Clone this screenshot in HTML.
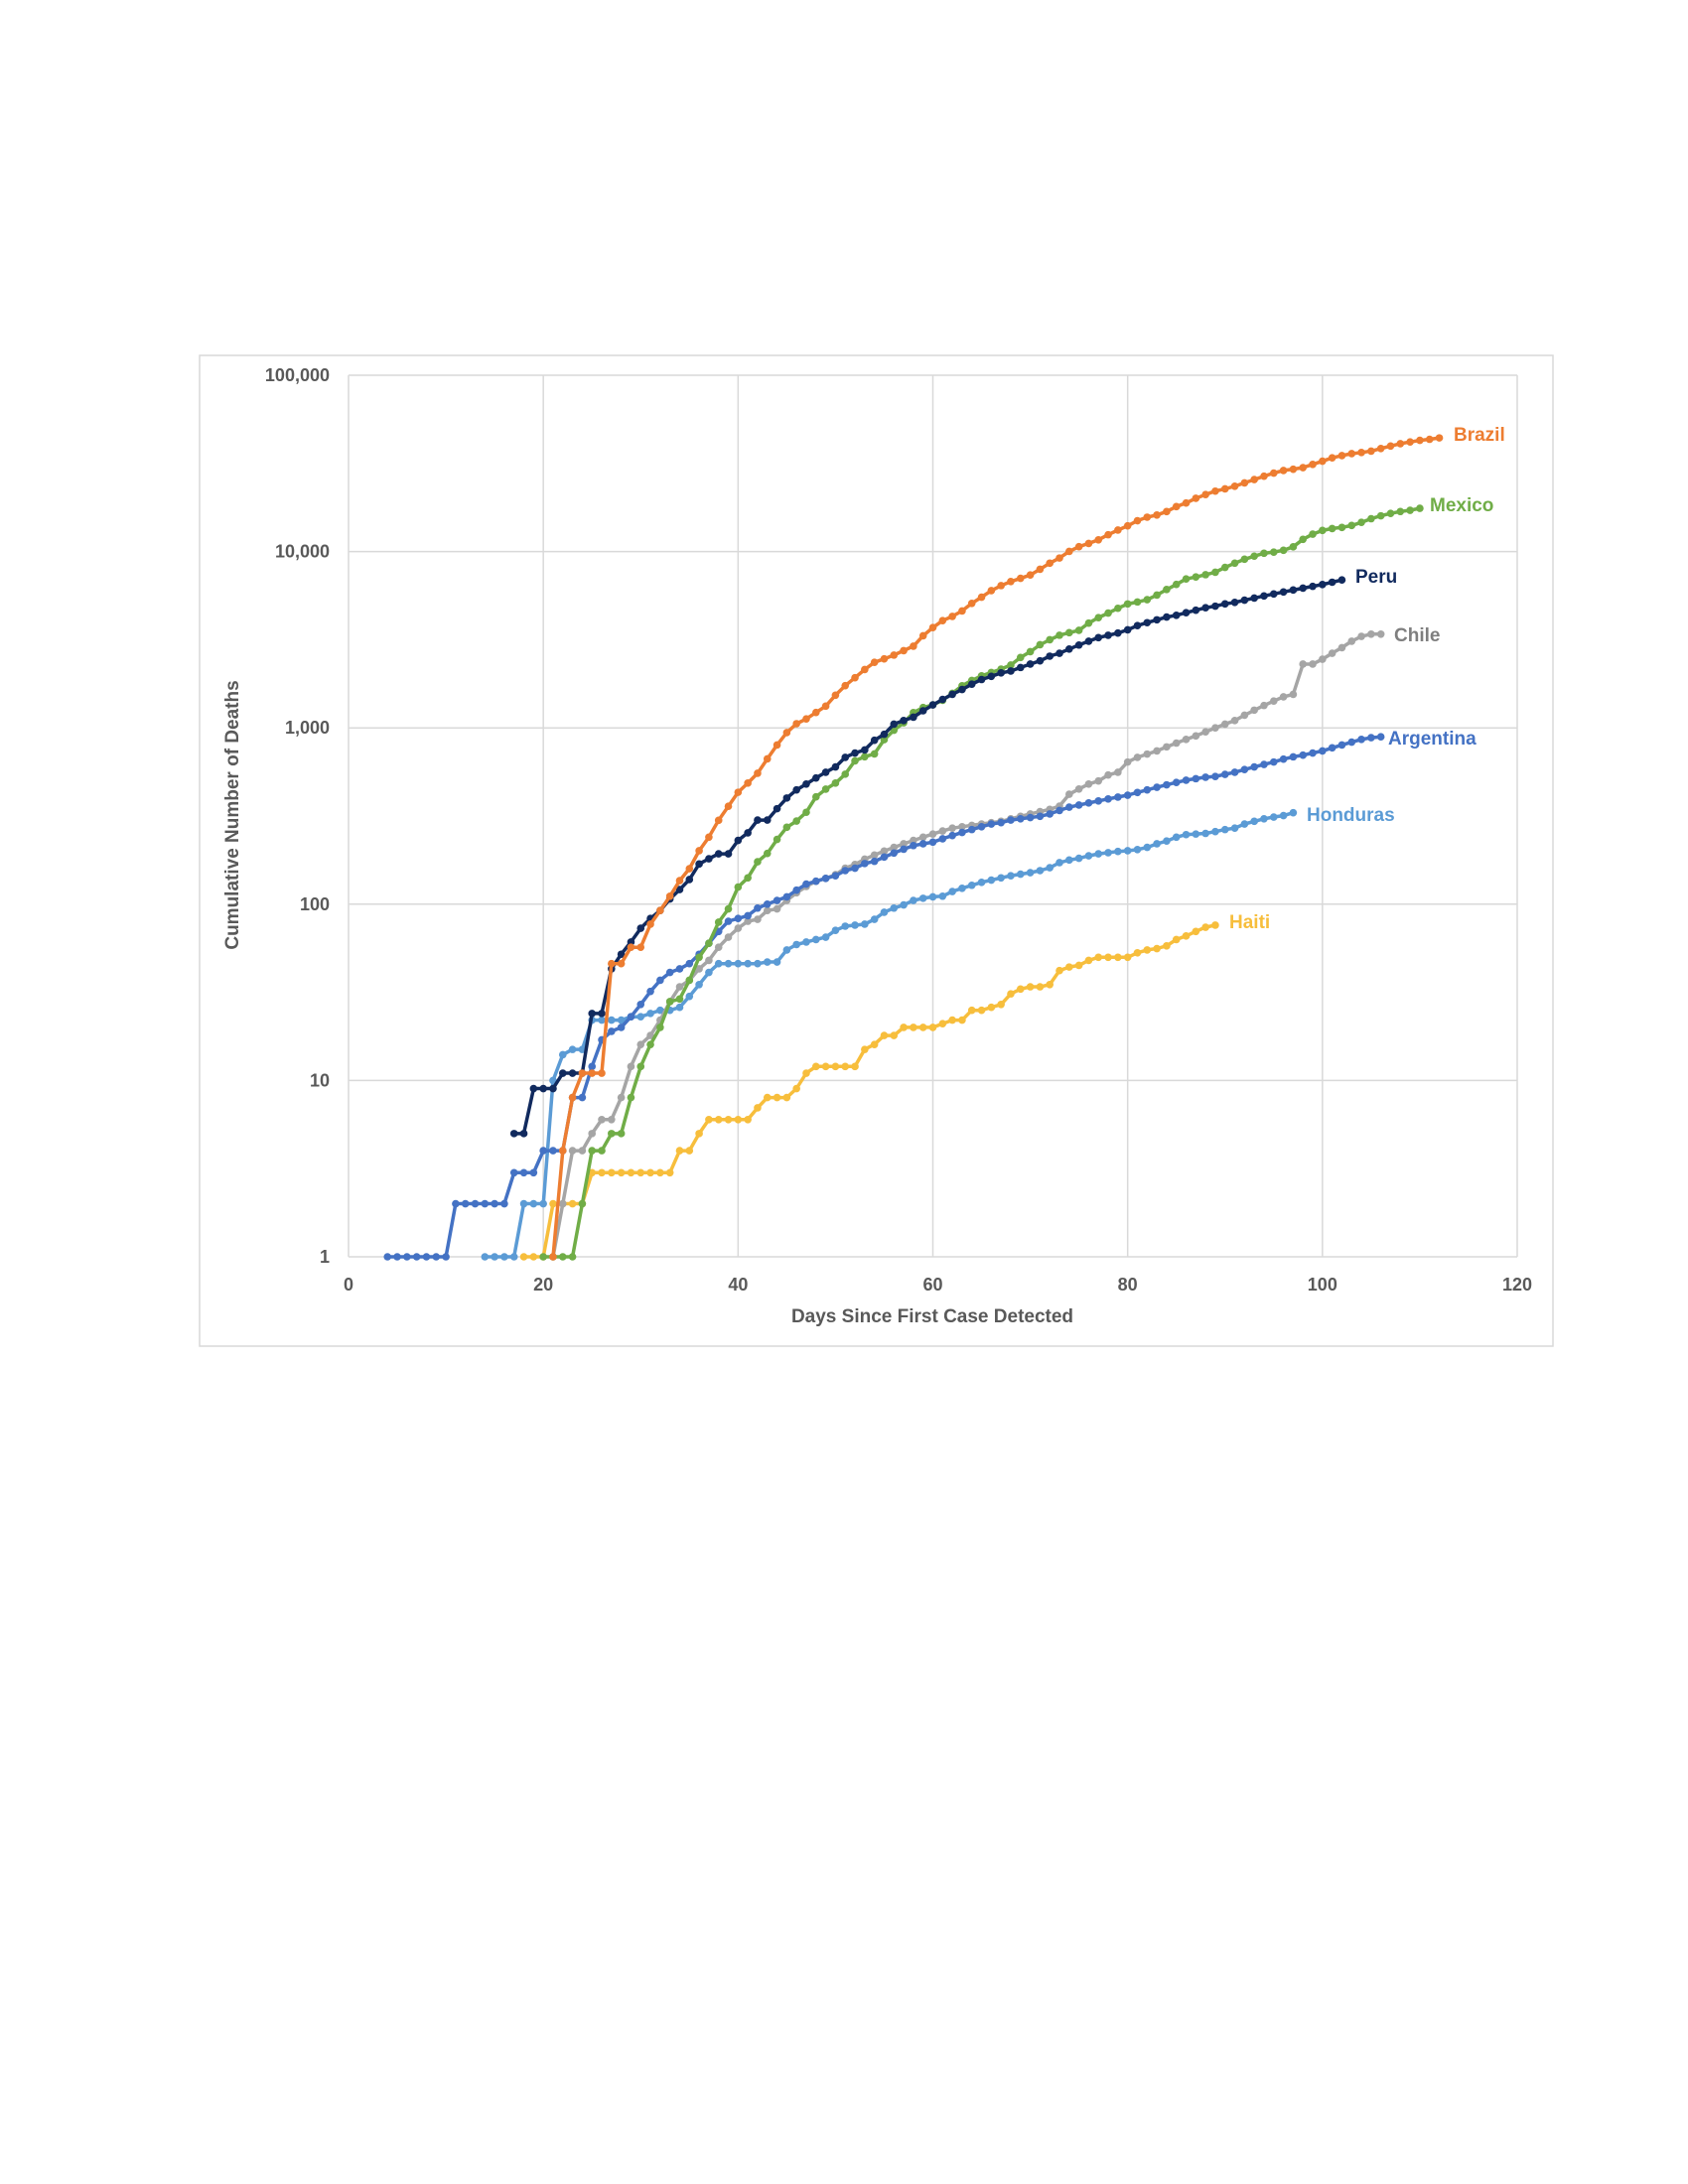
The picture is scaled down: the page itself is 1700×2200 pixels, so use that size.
<!DOCTYPE html>
<html><head><meta charset="utf-8"><style>
html,body{margin:0;padding:0;background:#fff;}
svg{display:block;font-family:"Liberation Sans",Arial,sans-serif;}
</style></head><body>
<svg id="chart" width="1700" height="2200" viewBox="0 0 1700 2200">
<rect x="201" y="358" width="1363" height="998" fill="#fff" stroke="#d9d9d9" stroke-width="1.5"/>
<g id="grid"></g>
<g id="ticks"></g>
<g id="series"></g>
<text x="939" y="1332" text-anchor="middle" font-size="19" font-weight="bold" fill="#595959">Days Since First Case Detected</text>
<text transform="translate(240,821) rotate(-90)" text-anchor="middle" font-size="19" font-weight="bold" fill="#595959">Cumulative Number of Deaths</text>
</svg>
<script>
const xTicks=[0,20,40,60,80,100,120];
const yTicks=[1,10,100,1000,10000,100000];
const yTickLabels=["1","10","100","1,000","10,000","100,000"];
const countries=["Brazil","Mexico","Peru","Chile","Argentina","Honduras","Haiti"];
const colors=["#ED7D31","#70AD47","#112A5E","#A5A5A5","#4472C4","#5B9BD5","#F7BE3C"];
const startDays=[21,20,17,21,4,14,18];
const brazil=[1,4,8,11,11,11,46,46,57,57,77,92,111,136,159,201,240,299,359,431,486,553,667,800,941,1056,1124,1223,1328,1532,1736,1924,2141,2354,2462,2587,2741,2906,3331,3704,4057,4286,4603,5083,5513,6006,6412,6761,7051,7367,7938,8588,9190,10017,10656,11123,11653,12461,13240,13999,14962,15662,16118,16853,17983,18859,20047,21048,22013,22666,23473,24512,25598,26754,27878,28834,29314,29937,31199,32548,34021,35026,35930,36455,37134,38406,39680,40919,41828,42720,43332,44118];
const mexico=[1,1,1,1,2,4,4,5,5,8,12,16,20,28,29,37,50,60,79,94,125,141,174,194,233,273,296,332,406,449,486,546,650,686,712,857,970,1069,1221,1305,1351,1434,1569,1732,1859,1972,2061,2154,2271,2507,2704,2961,3160,3353,3465,3573,3926,4220,4477,4767,5045,5177,5332,5666,6090,6510,6989,7179,7394,7633,8134,8597,9044,9415,9779,9930,10167,10637,11729,12545,13170,13511,13699,14053,14649,15357,15944,16448,16872,17141,17580];
const peru=[5,5,9,9,9,11,11,11,24,24,43,52,61,73,83,92,107,121,138,169,181,193,193,230,254,300,300,348,400,445,480,520,560,600,680,720,750,850,920,1050,1100,1150,1250,1350,1450,1550,1650,1770,1880,1960,2050,2100,2200,2300,2400,2550,2650,2800,2950,3100,3250,3350,3450,3600,3800,3950,4100,4250,4350,4500,4650,4800,4900,5050,5150,5300,5450,5600,5750,5900,6050,6200,6350,6500,6700,6900];
const chile=[1,2,4,4,5,6,6,8,12,16,18,22,28,34,37,43,48,57,65,73,80,82,92,94,105,116,126,135,140,147,160,168,180,190,200,210,220,230,240,250,260,270,275,280,285,290,295,305,315,325,335,345,360,420,450,480,500,540,560,640,680,710,740,780,820,860,900,950,1000,1050,1100,1180,1260,1340,1420,1500,1550,2300,2300,2450,2650,2850,3100,3300,3400,3400];
const argentina=[1,1,1,1,1,1,1,2,2,2,2,2,2,3,3,3,4,4,4,8,8,12,17,19,20,23,27,32,37,41,43,46,52,60,70,80,83,86,95,100,105,110,120,130,135,140,145,155,160,170,175,185,195,205,215,220,225,235,245,255,265,275,285,290,300,305,310,315,325,340,355,365,375,385,395,405,415,430,445,460,475,490,505,515,525,530,545,560,580,600,620,640,665,685,700,720,740,770,800,830,860,880,890];
const honduras=[1,1,1,1,2,2,2,10,14,15,15,22,22,22,22,23,23,24,25,25,26,30,35,41,46,46,46,46,46,47,47,55,59,61,63,65,71,75,76,77,82,90,95,99,105,108,110,111,118,123,128,133,137,141,145,148,151,155,161,172,178,182,188,193,196,199,201,204,210,220,228,240,248,250,252,258,265,270,285,295,305,312,318,330];
const haiti=[1,1,1,2,2,2,2,3,3,3,3,3,3,3,3,3,4,4,5,6,6,6,6,6,7,8,8,8,9,11,12,12,12,12,12,15,16,18,18,20,20,20,20,21,22,22,25,25,26,27,31,33,34,34,35,42,44,45,48,50,50,50,50,53,55,56,58,63,66,70,74,76];
const seriesData=[brazil,mexico,peru,chile,argentina,honduras,haiti];
const labelPos=[[1464,437],[1440,508],[1365,580],[1404,639],[1398,743],[1316,820],[1238,928]];

const X0=351,X1=1528,YT=378,YB=1266;
const xScale=d=>X0+(d-0)/(120-0)*(X1-X0);
const yScale=v=>YB-(Math.log10(v)-0)/(5-0)*(YB-YT);
const NS="http://www.w3.org/2000/svg";
function mk(t,a){const e=document.createElementNS(NS,t);for(const k in a)e.setAttribute(k,a[k]);return e;}
const grid=document.getElementById('grid'),ticks=document.getElementById('ticks'),ser=document.getElementById('series');
xTicks.forEach(t=>{
  const l=mk('line',{x1:xScale(t),x2:xScale(t),y1:YT,y2:YB,stroke:'#d9d9d9','stroke-width':1.5});
  
  
  grid.appendChild(l);
  const tx=mk('text',{x:xScale(t),y:1300,'text-anchor':'middle','font-size':18,'font-weight':'bold',fill:'#595959'});
  tx.textContent=t;
  
  
  ticks.appendChild(tx);
});
yTicks.forEach((t,i)=>{
  const l=mk('line',{x1:X0,x2:X1,y1:yScale(t),y2:yScale(t),stroke:'#d9d9d9','stroke-width':1.5});
  
  
  grid.appendChild(l);
  const tx=mk('text',{x:332,y:yScale(t)+6,'text-anchor':'end','font-size':18,'font-weight':'bold',fill:'#595959'});
  tx.textContent=yTickLabels[i];
  
  
  ticks.appendChild(tx);
});
const order=[6,5,3,4,1,2,0];
order.forEach(ci=>{
  const g=mk('g',{});
  
  
  const vals=seriesData[ci];
  const pts=vals.map((v,i)=>xScale(startDays[ci]+i).toFixed(1)+','+yScale(v).toFixed(1)).join(' ');
  const pl=mk('polyline',{points:pts,fill:'none',stroke:colors[ci],'stroke-width':3.5,'stroke-linejoin':'round'});
  
  
  g.appendChild(pl);
  vals.forEach((v,i)=>{
    const c=mk('circle',{cx:xScale(startDays[ci]+i),cy:yScale(v),r:3.8,fill:colors[ci]});
    
    
    g.appendChild(c);
  });
  const lb=mk('text',{x:labelPos[ci][0],y:labelPos[ci][1]+7,'font-size':19,'font-weight':'bold',fill:ci===3?'#7F7F7F':colors[ci]});
  lb.textContent=countries[ci];
  
  
  g.appendChild(lb);
  ser.appendChild(g);
});
</script>
</body></html>
